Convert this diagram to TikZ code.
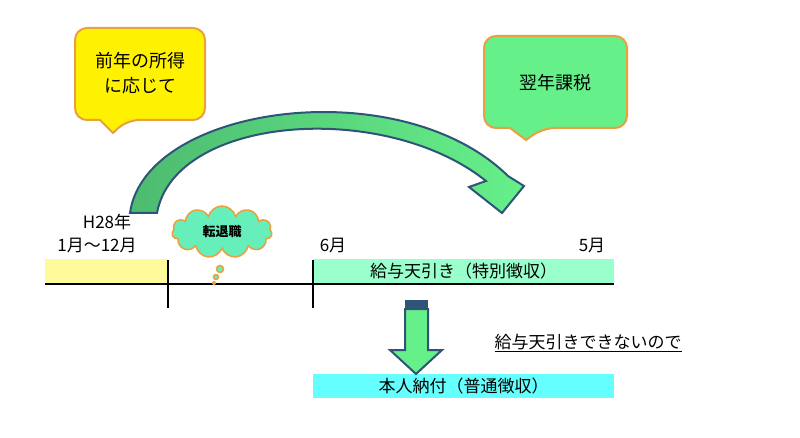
\documentclass[tikz,border=0pt]{standalone}
\usepackage{fontspec}
\setmainfont{Noto Sans CJK JP}
\usetikzlibrary{shapes.symbols}
\definecolor{org}{HTML}{E8A040}
\definecolor{dblue}{HTML}{2E5577}
\definecolor{lgreen}{HTML}{66F08A}
\definecolor{dgreen}{HTML}{4DBB70}
\definecolor{aqua}{HTML}{66EEBB}
\definecolor{spg}{HTML}{99FFCC}
\definecolor{cyn}{HTML}{66FFFF}
\begin{document}
\begin{tikzpicture}[x=1pt,y=-1pt,
  lbl/.style={font=\fontsize{17}{19}\selectfont,inner sep=0pt},
  bar/.style={inner sep=0pt,minimum height=24pt,font=\fontsize{17}{19}\selectfont}]
\useasboundingbox (0,0) rectangle (800,438);
\fill[white] (0,0) rectangle (800,438);
% yellow callout
\draw[org,line width=2pt,fill=yellow,rounded corners=12pt] (75,28) -- (205,28) -- (205,120) -- (127,120) [sharp corners]-- (113,133) -- (100,120) [rounded corners=12pt]-- (75,120) -- cycle;
\node[font=\fontsize{18}{25}\selectfont,align=center] (c1) at (140,73) {前年の所得\\に応じて};
% green callout
\draw[org,line width=2pt,fill=lgreen,rounded corners=12pt] (484,36) -- (627,36) -- (627,128) -- (543,128) [sharp corners]-- (526,140) -- (510,128) [rounded corners=12pt]-- (484,128) -- cycle;
\node[font=\fontsize{18}{22}\selectfont] (c2) at (555,83) {翌年課税};
% curved arrow
\draw[dblue,line width=2pt,left color=dgreen,right color=lgreen]
  (130,213) .. controls (145,105) and (400,70) .. (508,176)
  -- (524,186) -- (502,213) -- (469,187) -- (486,181)
  .. controls (385,100) and (175,115) .. (157,213) -- cycle;
% bars
\fill[yellow!40] (45,259) rectangle (168,283);
\node[bar,fill=spg,minimum width=301pt,anchor=north west] (sp) at (313,259) {給与天引き（特別徴収）};
\node[bar,fill=cyn,minimum width=301pt,anchor=north west] (fu) at (313,374) {本人納付（普通徴収）};
% timeline
\draw[line width=1.2pt] (45,284) -- (614,284);
\draw[line width=1.2pt] (168,260) -- (168,308);
\draw[line width=1.2pt] (313,260) -- (313,308);
\node[lbl] (h28) at (107,222) {H28年};
\node[lbl] (m1) at (97,245) {1月～12月};
\node[lbl] (m6) at (333,245) {6月};
\node[lbl] (m5) at (592,245) {5月};
% cloud
\node[cloud,cloud puffs=11,aspect=2.2,draw=org,line width=1.5pt,fill=aqua,minimum width=100pt,minimum height=52pt,font=\bfseries\fontsize{13}{15}\selectfont] (cl) at (222,232) {転退職};
\draw[org,line width=1.5pt,fill=aqua] (220,269) circle (3.5pt);
\draw[org,line width=1.5pt,fill=aqua] (216,277) circle (2.5pt);
\fill[org] (214,283) circle (2pt);
% down arrow
\fill[dblue] (405,300) rectangle (428,309);
\draw[dblue,line width=2pt,fill=lgreen] (405,309) -- (428,309) -- (428,350) -- (442,350) -- (416,374) -- (390,350) -- (405,350) -- cycle;
\node[lbl] (nt) at (588,343) {\underline{給与天引きできないので}};
\end{tikzpicture}
\end{document}
